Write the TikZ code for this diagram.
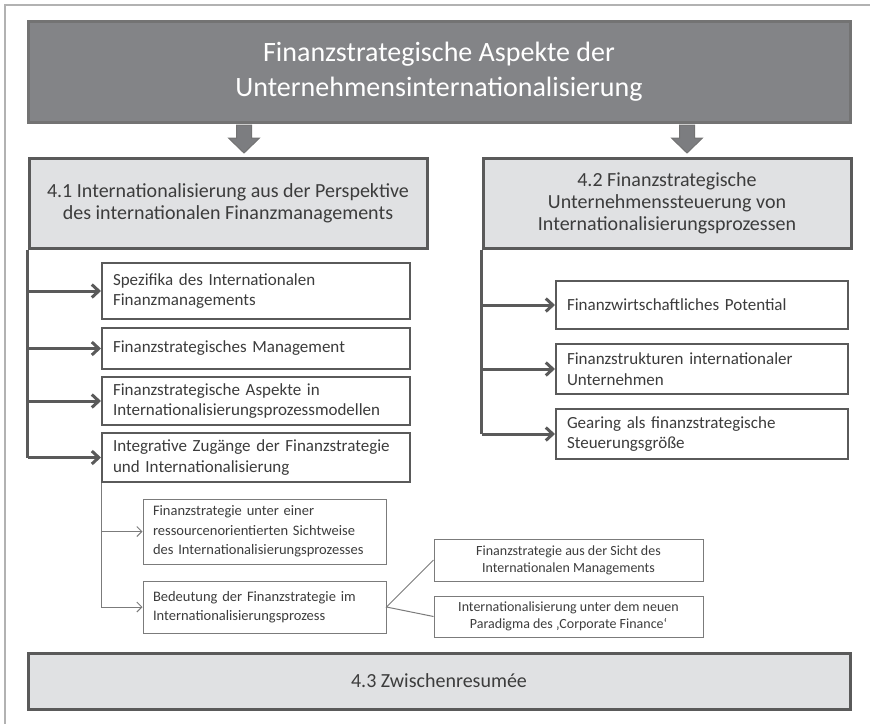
\documentclass[tikz,border=0pt]{standalone}
\usepackage{fontspec}
\setmainfont{Carlito}
\usepackage{xcolor}
\usetikzlibrary{arrows.meta}
\definecolor{dunkel}{HTML}{838487}
\definecolor{rand}{HTML}{5A5A5A}
\definecolor{hell}{HTML}{E0E1E3}
\definecolor{schrift}{HTML}{3C3C3C}

\begin{document}
\begin{tikzpicture}[x=1pt,y=-1pt,
 titel/.style={draw=rand!85,line width=3pt,fill=dunkel,text=white,align=center,minimum width=822pt,minimum height=101pt,font=\fontsize{28}{35}\selectfont},
 kapitel/.style={draw=rand,line width=3pt,fill=hell,text=schrift,align=center,inner sep=0pt,font=\fontsize{20}{22}\selectfont},
 punkt/.style={draw=rand,line width=2pt,fill=white,text=schrift,align=left,text width=286pt,inner xsep=11pt,inner ysep=0pt,font=\fontsize{17}{20.5}\selectfont},
 rpunkt/.style={punkt,text width=270pt},
 upunkt/.style={draw=rand!80,line width=1pt,text=schrift,align=left,text width=223pt,inner xsep=10pt,inner ysep=0pt,font=\fontsize{14.5}{19.5}\selectfont},
 aussen/.style={draw=rand!80,line width=1pt,text=schrift,align=center,minimum width=269pt,inner sep=0pt,font=\fontsize{14}{17}\selectfont},
 stamm/.style={draw=rand,line width=3pt},
 verb/.style={stamm,-{Straight Barb[length=7pt,width=13pt]}},
 duenn/.style={draw=rand!80,line width=1pt},
 dverb/.style={duenn,-{Straight Barb[length=5pt,width=10pt]}},
 block/.style={draw=rand!85,line width=1pt,fill=dunkel!95!black}]
\useasboundingbox (0,0) rectangle (870,724);
\draw[gray!60,line width=1.5pt](870,5)--(5,5)--(5,724);

\node[titel](titel) at (439,71.5){Finanzstrategische Aspekte der\\Unternehmensinternationalisierung};
\foreach \x in {244,687}
 \draw[block](\x,153)--++(15.5,-15)--++(-8,0)--++(0,-13)--++(-15,0)--++(0,13)--++(-8,0)--cycle;

\node[kapitel,minimum width=398pt,minimum height=90pt](sec41) at (228,203){4.1 Internationalisierung aus der Perspektive\\des internationalen Finanzmanagements};
\node[kapitel,minimum width=368pt,minimum height=90pt](sec42) at (667,203){4.2 Finanzstrategische\\Unternehmenssteuerung von\\Internationalisierungsprozessen};
\node[kapitel,minimum width=822pt,minimum height=56pt](sec43) at (439,681){4.3 Zwischenresumée};

\node[punkt,minimum height=56pt](spez) at (256,291){Spezifika des Internationalen\\Finanzmanagements};
\node[punkt,minimum height=41pt](fsm) at (256,348.5){Finanzstrategisches Management};
\node[punkt,minimum height=48pt](asp) at (256,401){Finanzstrategische Aspekte in\\Internationalisierungsprozessmodellen};
\node[punkt,minimum height=49pt](integ) at (256,457.5){Integrative Zugänge der Finanzstrategie\\und Internationalisierung};

\node[rpunkt,minimum height=48pt](pot) at (702,305){Finanzwirtschaftliches Potential};
\node[rpunkt,minimum height=50pt](struk) at (702,369){Finanzstrukturen internationaler\\Unternehmen};
\node[rpunkt,minimum height=50pt](gear) at (702,434){Gearing als finanzstrategische\\Steuerungsgröße};

\node[upunkt,minimum height=65pt](ress) at (264.5,531.5){Finanzstrategie unter einer\\ressourcenorientierten Sichtweise\\des Internationalisierungsprozesses};
\node[upunkt,minimum height=52pt](bed) at (264.5,607){Bedeutung der Finanzstrategie im\\Internationalisierungsprozess};

\node[aussen,minimum height=42pt](sicht) at (568.5,560){Finanzstrategie aus der Sicht des\\Internationalen Managements};
\node[aussen,minimum height=41pt](cf) at (568.5,616.5){Internationalisierung unter dem neuen\\Paradigma des ‚Corporate Finance‘};

\draw[stamm](sec41.south west)--(sec41.south west|-integ.west);
\foreach \n in {spez,fsm,asp,integ}
 \draw[verb](sec41.south west|-\n.west)--(\n.west);
\draw[stamm](sec42.south west)--(sec42.south west|-gear.west);
\foreach \n in {pot,struk,gear}
 \draw[verb](sec42.south west|-\n.west)--(\n.west);
\draw[duenn](integ.south west)--(integ.south west|-bed.west);
\foreach \n in {ress,bed}
 \draw[dverb](integ.south west|-\n.west)--(\n.west);
\draw[duenn](sicht.west)--(bed.east)--(cf.west);
\end{tikzpicture}
\end{document}
